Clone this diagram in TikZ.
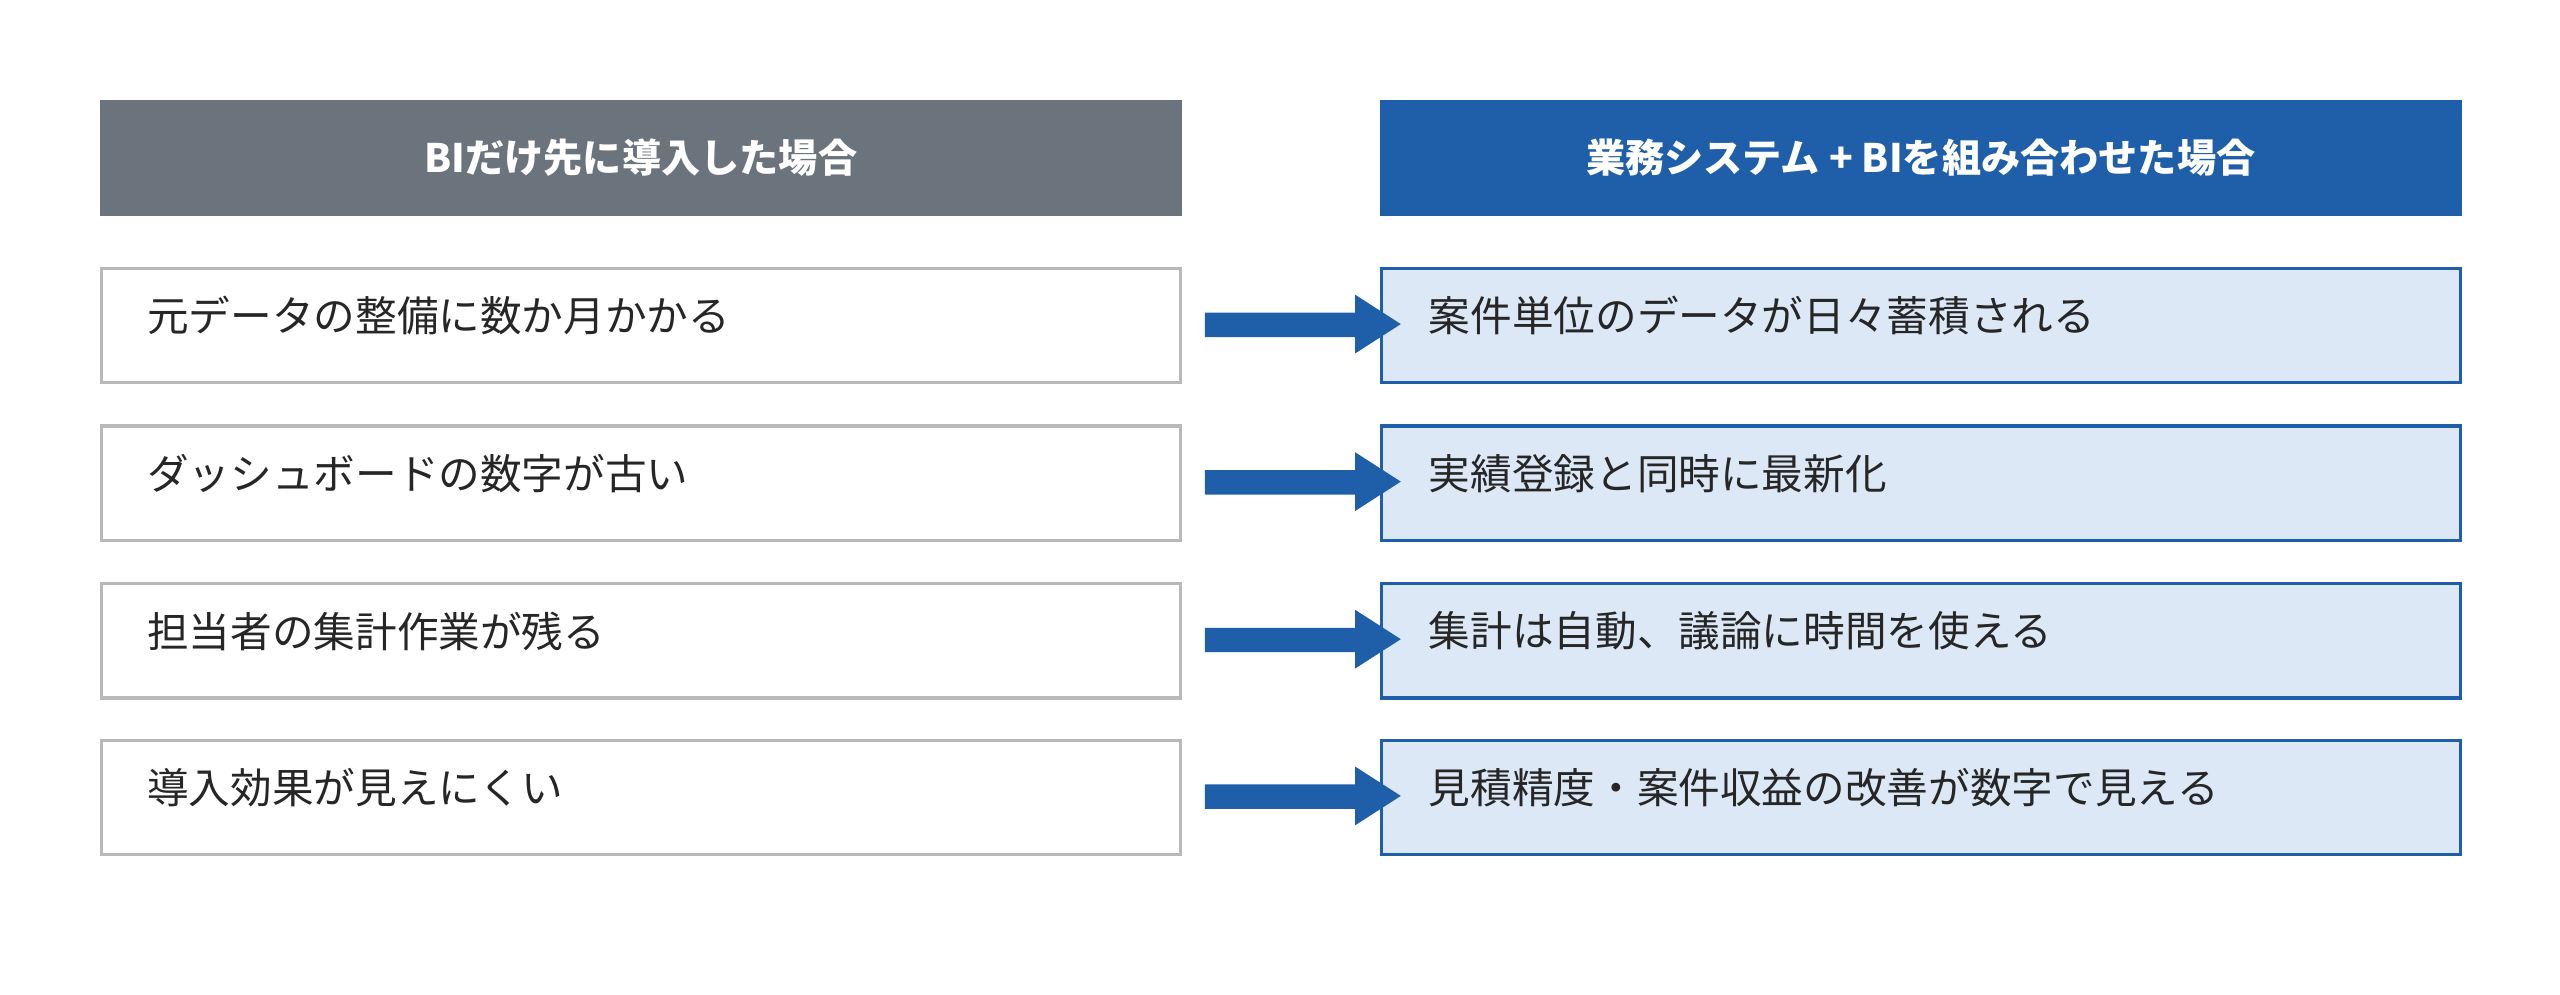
\documentclass[tikz,border=0pt]{standalone}
\usepackage{fontspec}
\setmainfont{Noto Sans CJK JP}
\begin{document}
\begin{tikzpicture}[x=1pt,y=-1pt,
  hdr/.style={minimum width=663pt,minimum height=71pt,inner sep=0pt,text=white,font=\fontsize{24}{28}\selectfont\bfseries},
  lbox/.style={draw=gray!55,line width=2pt,fill=white,minimum width=661pt,minimum height=70pt,inner sep=0pt},
  rbox/.style={draw=blueA,line width=2pt,fill=lightB,minimum width=661pt,minimum height=70pt,inner sep=0pt},
  txt/.style={anchor=west,font=\fontsize{25.5}{30}\selectfont,text=black!85,inner sep=0pt},
  arr/.style={fill=blueA}]
\definecolor{blueA}{HTML}{1F5FAA}
\definecolor{lightB}{HTML}{DDE8F7}
\definecolor{grayH}{HTML}{6B737D}
\useasboundingbox (0,0) rectangle (1568,609);
\node[hdr,fill=grayH] (hl) at (392.5,96.5) {BIだけ先に導入した場合};
\node[hdr,fill=blueA] (hr) at (1176.5,96.5) {業務システム + BIを組み合わせた場合};
\foreach \i/\y/\a/\b in {1/199.5/元データの整備に数か月かかる/案件単位のデータが日々蓄積される,
  2/296/ダッシュボードの数字が古い/実績登録と同時に最新化,
  3/392.5/担当者の集計作業が残る/集計は自動、議論に時間を使える,
  4/488.5/導入効果が見えにくい/見積精度・案件収益の改善が数字で見える}{
  \node[lbox] (l\i) at (392.5,\y) {};
  \node[rbox] (r\i) at (1176.5,\y) {};
  \node[txt] (lt\i) at (90,\y-6) {\a};
  \node[txt] (rt\i) at (875,\y-6) {\b};
  \fill[arr] (738,\y-8) -- (830,\y-8) -- (830,\y-19) -- (858,\y-1) -- (830,\y+17) -- (830,\y+7) -- (738,\y+7) -- cycle;
}
\end{tikzpicture}
\end{document}
